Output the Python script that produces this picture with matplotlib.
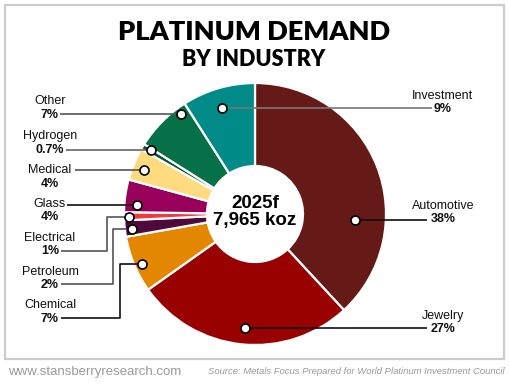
import numpy as np
import matplotlib
matplotlib.use("Agg")
import matplotlib.pyplot as plt
from matplotlib.patches import Rectangle

# ---- data ----
categories = ["Automotive", "Jewelry", "Chemical", "Petroleum", "Electrical",
              "Glass", "Medical", "Hydrogen", "Other", "Investment"]
shares = [38, 27, 7, 2, 1, 4, 4, 0.7, 7, 9]
pct_labels = ["38%", "27%", "7%", "2%", "1%", "4%", "4%", "0.7%", "7%", "9%"]
colors = ["#661a17", "#990000", "#e38600", "#4f0a3d", "#ee3b3b",
          "#98005b", "#ffdb80", "#0b5232", "#067048", "#008a88"]
center_lines = ["2025f", "7,965 koz"]
title_lines = ["PLATINUM DEMAND", "BY INDUSTRY"]
footer_left = "www.stansberryresearch.com"
footer_right = "Source: Metals Focus Prepared for World Platinum Investment Council"

# ---- layout (pixel space, y downward) ----
W, H = 510, 384
CX, CY, R, RIN = 255, 214, 131, 48
# per label: (fraction within wedge, dot radius, text x, name y, pct y,
#             line end x, elbow x or None, line y or None, line color)
layout = {
    "Automotive": (0.68, 100, 443, 206, 219, 427, None, None, "#111111"),
    "Jewelry":    (0.49, 114, 443, 316, 329, 427, None, None, "#111111"),
    "Chemical":   (0.45, 124, 50, 305, 319, 61, 120, 318, "#111111"),
    "Petroleum":  (0.42, 124, 50, 272, 285, 61, 113, 284, "#555555"),
    "Electrical": (0.39, 126, 50, 238, 251, 61, 107, 251, "#555555"),
    "Glass":      (0.24, 118, 50, 204, 217, 67, None, None, "#111111"),
    "Medical":    (0.45, 120, 50, 170, 184, 75, None, None, "#555555"),
    "Hydrogen":   (0.68, 122, 50, 136, 150, 66, None, None, "#666666"),
    "Other":      (0.84, 124, 50, 101, 115, 60, None, None, "#555555"),
    "Investment": (0.47, 111, 443, 96, 109, 432, None, None, "#777777"),
}

fig = plt.figure(figsize=(W / 100, H / 100), dpi=100)
fig.patch.set_facecolor("white")
ax = fig.add_axes([0, 0, 1, 1])

wedges, _ = ax.pie(shares, colors=colors, startangle=-90, counterclock=True,
                   center=(CX, CY), radius=R,
                   wedgeprops=dict(width=R - RIN, edgecolor="white", linewidth=1.6))
ax.set_xlim(0, W)
ax.set_ylim(H, 0)
ax.set_aspect("equal")
ax.axis("off")

# frame
ax.add_patch(Rectangle((5, 5), 499, 354, fill=False, edgecolor="#cccccc", lw=1.6, zorder=1))

lab_font = "Liberation Sans"
for w, name, pct in zip(wedges, categories, pct_labels):
    frac, rd, tx, ny, py, ex, elbow, ly, lc = layout[name]
    ang = np.deg2rad(w.theta1 + frac * (w.theta2 - w.theta1))
    dx = CX + rd * np.cos(ang)
    dy = CY + rd * np.sin(ang)
    if elbow is None:
        xs, ys = [dx, ex], [dy, dy]
    else:
        xs, ys = [dx, elbow, elbow, ex], [dy, dy, ly, ly]
    ax.plot(xs, ys, color=lc, lw=1.2, zorder=5, solid_capstyle="butt")
    ax.plot([dx], [dy], marker="o", ms=6.5, mfc="white", mec="black", mew=1.2, zorder=6)
    ax.text(tx, ny, name, ha="center", va="center", fontsize=9,
            family=lab_font, color="#111111", zorder=7)
    ax.text(tx, py, pct, ha="center", va="center", fontsize=9,
            family=lab_font, fontweight="bold", color="#111111", zorder=7)

# center text
ax.text(CX, 203, center_lines[0], ha="center", va="center", fontsize=13.5,
        fontweight="bold", family=lab_font, color="black", zorder=7)
ax.text(CX, 221, center_lines[1], ha="center", va="center", fontsize=13.5,
        fontweight="bold", family=lab_font, color="black", zorder=7)

# title
ax.text(254, 32, title_lines[0], ha="center", va="center", fontsize=19.5,
        fontweight="heavy", family=["Lato", "Liberation Sans"], color="black")
ax.text(254, 60, title_lines[1], ha="center", va="center", fontsize=15.5,
        fontweight="heavy", family=["Lato", "Liberation Sans"], color="black")

# footer
ax.text(8, 372, footer_left, ha="left", va="center", fontsize=9.5,
        family=lab_font, color="#9a9a9a")
ax.text(505, 372, footer_right, ha="right", va="center", fontsize=6.8,
        family=lab_font, style="italic", color="#9a9a9a")

fig.savefig("out.png", dpi=100, facecolor="white")
